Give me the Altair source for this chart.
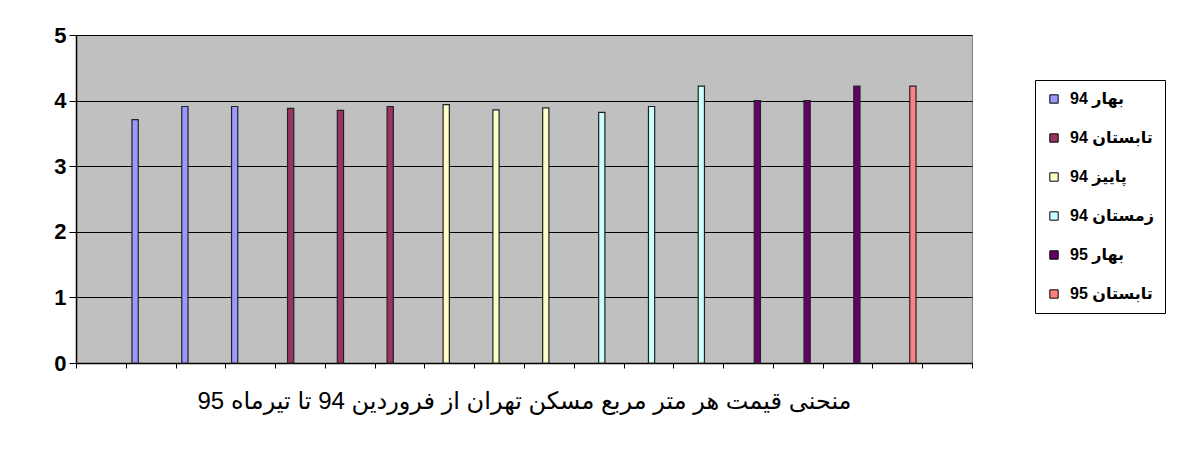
import altair as alt
import pandas as pd

months = ["فروردین 94", "اردیبهشت 94", "خرداد 94", "تیر 94", "مرداد 94", "شهریور 94",
          "مهر 94", "آبان 94", "آذر 94", "دی 94", "بهمن 94", "اسفند 94",
          "فروردین 95", "اردیبهشت 95", "خرداد 95", "تیر 95"]
seasons = ["بهار 94", "تابستان 94", "پاییز 94", "زمستان 94", "بهار 95", "تابستان 95"]
month_season = [0, 0, 0, 1, 1, 1, 2, 2, 2, 3, 3, 3, 4, 4, 4, 5]
values = [3.71, 3.91, 3.91, 3.88, 3.85, 3.91, 3.94, 3.86, 3.89, 3.82, 3.91, 4.22,
          4.0, 4.0, 4.22, 4.22]
season_colors = ["#9999FF", "#993366", "#FFFFCC", "#CCFFFF", "#660066", "#FF8080"]
x_domain = ["_start"] + months + ["_end"]
title_text = "منحنی قیمت هر متر مربع مسکن تهران از فروردین 94 تا تیرماه 95"

df = pd.DataFrame({
    "month": months,
    "season": [seasons[i] for i in month_season],
    "value": values,
})

chart = alt.Chart(df).mark_bar(stroke="#222222", strokeWidth=1.2).encode(
    x=alt.X("month:N",
            scale=alt.Scale(domain=x_domain, paddingInner=0, paddingOuter=0),
            sort=x_domain,
            axis=alt.Axis(title=title_text, labels=False, tickBand="extent",
                          domainColor="black", domainWidth=1.5, tickColor="black", tickSize=5,
                          titleFontSize=24, titleFontWeight="normal",
                          titleFont="Liberation Sans, DejaVu Sans", titleColor="black",
                          titlePadding=21, grid=False)),
    xOffset=alt.XOffset("season:N",
                        scale=alt.Scale(domain=seasons, paddingInner=0, paddingOuter=1.0)),
    y=alt.Y("value:Q",
            scale=alt.Scale(domain=[0, 5], nice=False),
            axis=alt.Axis(title=None, values=[0, 1, 2, 3, 4, 5], format="d",
                          labelFontSize=22, labelFontWeight="bold",
                          labelFont="Liberation Sans", labelColor="black",
                          labelPadding=3, tickSize=7, tickColor="black",
                          domainColor="black", domainWidth=1.5,
                          gridColor="black", gridWidth=1.2)),
    color=alt.Color("season:N",
                    scale=alt.Scale(domain=seasons, range=season_colors),
                    legend=alt.Legend(title=None, orient="none", legendX=959, legendY=45,
                                      symbolType="square", symbolSize=70,
                                      symbolStrokeColor="black", symbolStrokeWidth=1,
                                      labelFontSize=16, labelFontWeight="bold",
                                      labelFont="Liberation Sans, DejaVu Sans",
                                      labelColor="black", rowPadding=23,
                                      strokeColor="black", fillColor="white",
                                      padding=11, labelOffset=8)),
).properties(
    width=896, height=328,
    padding={"left": 68, "top": 27, "right": 220, "bottom": 70},
    autosize="none",
).configure_view(fill="#C0C0C0", stroke="#808080")

chart.save("out.html", embed_options={"renderer": "svg", "actions": False})
